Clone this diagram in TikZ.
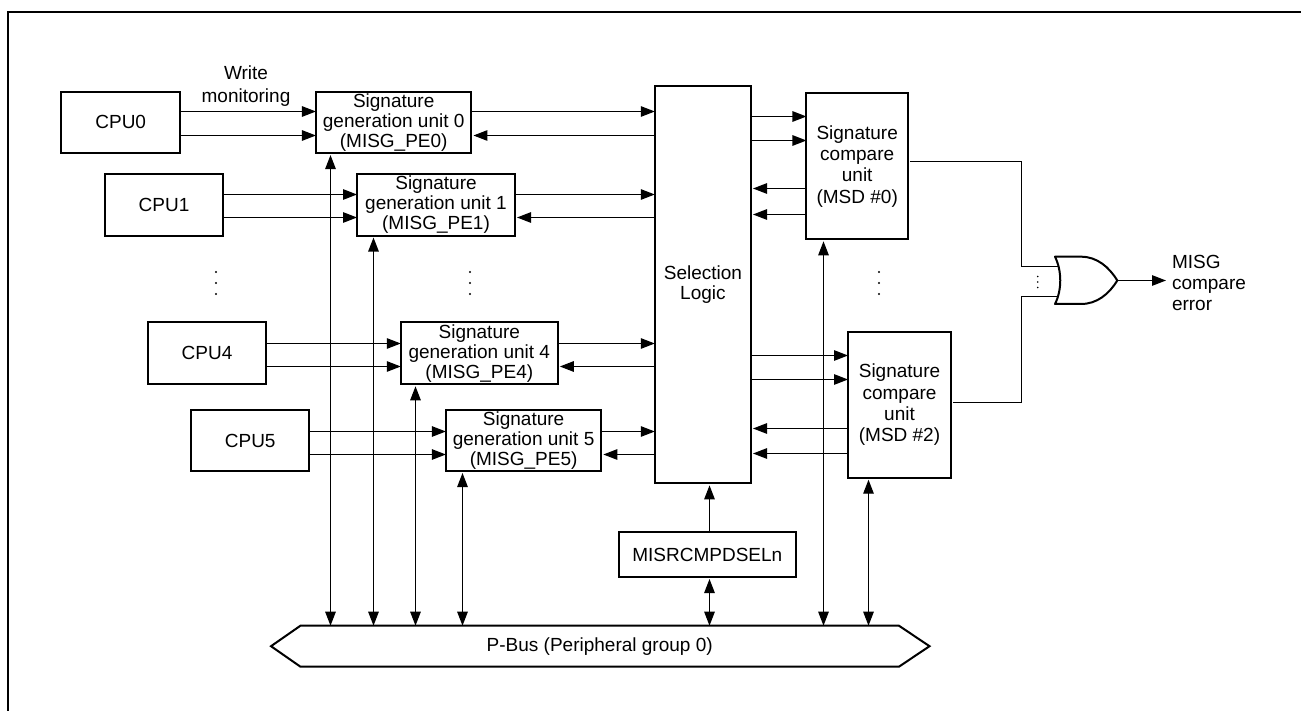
\documentclass[tikz,border=0pt]{standalone}
\usepackage{fontspec}
\setmainfont{Liberation Sans}
\usetikzlibrary{arrows.meta}
\tikzset{
  thinln/.style={line width=1.2pt,draw=black},
  boxn/.style={draw=black,line width=2pt,fill=white,inner sep=0pt,outer sep=0pt,align=center,font=\fontsize{19}{20}\selectfont},
  txt/.style={inner sep=0pt,outer sep=0pt,align=center,font=\fontsize{19}{20}\selectfont},
  arr/.style={thinln,-{Triangle[length=14pt,width=10.5pt]}},
  arrgap/.style={arr,shorten >=2pt},
  dbl/.style={thinln,{Triangle[length=14pt,width=10.5pt]}-{Triangle[length=14pt,width=10.5pt]},shorten <=2pt},
  ln/.style={thinln},
  dotm/.style={fill=black},
}
\newcommand{\hright}[3]{\draw[arr] (#1.east |- 0,#3) -- (#2.west |- 0,#3);}
\newcommand{\hleft}[3]{\draw[arrgap] (#1.west |- 0,#3) -- (#2.east |- 0,#3);}
\newcommand{\threedots}[2]{\fill[dotm] (#1,#2) circle (1.1pt) (#1,#2+11) circle (1.1pt) (#1,#2+22) circle (1.1pt);}
\begin{document}
\begin{tikzpicture}[x=1pt,y=-1pt]
\useasboundingbox (0,0) rectangle (1301,711);
\draw[line width=2pt,line cap=rect] (7.5,711) -- (7.5,12) -- (1301,12);

\node[boxn,minimum width=118.5pt,minimum height=61.5pt] (cpu0) at (120.7,122.3) {CPU0};
\node[boxn,minimum width=118pt,minimum height=61.5pt] (cpu1) at (164,204.8) {CPU1};
\node[boxn,minimum width=118pt,minimum height=62pt] (cpu4) at (207,353.3) {CPU4};
\node[boxn,minimum width=118pt,minimum height=61pt] (cpu5) at (250.2,440.5) {CPU5};

\node[boxn,minimum width=155.5pt,minimum height=61.5pt] (sg0) at (393.7,122.3) {Signature\\generation unit 0\\(MISG\_PE0)};
\node[boxn,minimum width=158pt,minimum height=61.5pt] (sg1) at (436,204.8) {Signature\\generation unit 1\\(MISG\_PE1)};
\node[boxn,minimum width=157pt,minimum height=62pt] (sg4) at (479.3,353.3) {Signature\\generation unit 4\\(MISG\_PE4)};
\node[boxn,minimum width=155.5pt,minimum height=61pt] (sg5) at (523.6,440.5) {Signature\\generation unit 5\\(MISG\_PE5)};

\node[boxn,minimum width=96.2pt,minimum height=397.3pt] (sel) at (702.9,284.7) {Selection\\Logic};
\node[boxn,minimum width=101.5pt,minimum height=146pt,font=\fontsize{19}{21.3}\selectfont] (msd0) at (857.2,166.3) {Signature\\compare\\unit\\(MSD \#0)};
\node[boxn,minimum width=103pt,minimum height=145.4pt,font=\fontsize{19}{21.3}\selectfont] (msd2) at (899.5,405) {Signature\\compare\\unit\\(MSD \#2)};
\node[boxn,minimum width=177.3pt,minimum height=45pt] (cmp) at (707.3,554.5) {MISRCMPDSELn};

\node[txt,minimum width=598.5pt,minimum height=41pt] (bus) at (599.7,646.2) {P-Bus (Peripheral group 0)};
\draw[line width=2pt,line join=miter] (bus.north west) -- (bus.north east) -- (929.5,646.2) -- (bus.south east) -- (bus.south west) -- (271,646.2) -- cycle;

\node[txt,font=\fontsize{19}{22.5}\selectfont] (wm) at (246,86) {Write\\monitoring};
\node[txt,anchor=west,align=left,font=\fontsize{19}{21.3}\selectfont] (err) at (1172,283) {MISG\\compare\\error};

% CPU -> signature generation
\hright{cpu0}{sg0}{111.5}\hright{cpu0}{sg0}{135.5}
\hright{cpu1}{sg1}{194.5}\hright{cpu1}{sg1}{217.5}
\hright{cpu4}{sg4}{343.5}\hright{cpu4}{sg4}{366.5}
\hright{cpu5}{sg5}{431.5}\hright{cpu5}{sg5}{454.5}
% signature generation <-> selection
\hright{sg0}{sel}{111.5}\hleft{sel}{sg0}{135.5}
\hright{sg1}{sel}{194.5}\hleft{sel}{sg1}{217.5}
\hright{sg4}{sel}{343.5}\hleft{sel}{sg4}{366.5}
\hright{sg5}{sel}{431.5}\hleft{sel}{sg5}{454.5}
% selection <-> compare
\hright{sel}{msd0}{116.5}\hright{sel}{msd0}{140.5}
\hleft{msd0}{sel}{188.5}\hleft{msd0}{sel}{214.5}
\hright{sel}{msd2}{355.5}\hright{sel}{msd2}{379.5}
\hleft{msd2}{sel}{428.5}\hleft{msd2}{sel}{453.5}
% bus links
\draw[dbl] (sg0.south -| 330.5,0) -- (bus.north -| 330.5,0);
\draw[dbl] (sg1.south -| 373.5,0) -- (bus.north -| 373.5,0);
\draw[dbl] (sg4.south -| 415.5,0) -- (bus.north -| 415.5,0);
\draw[dbl] (sg5.south -| 462.5,0) -- (bus.north -| 462.5,0);
\draw[dbl] (cmp.south -| 709.5,0) -- (bus.north -| 709.5,0);
\draw[dbl] (msd0.south -| 823.5,0) -- (bus.north -| 823.5,0);
\draw[dbl] (msd2.south -| 868.5,0) -- (bus.north -| 868.5,0);
\draw[arrgap] (cmp.north -| 709.5,0) -- (sel.south -| 709.5,0);

% OR gate
\coordinate (gin1) at (1058,266.5);
\coordinate (gin2) at (1058,296.5);
\coordinate (gout) at (1117.3,280.5);
\coordinate (j1) at (1021.5,266.5);
\coordinate (j2) at (1021.5,296.5);
\draw[ln] (msd0.east |- 0,161.5) ++(2,0) -- (j1 |- 0,161.5) -- (j1) -- (gin1);
\draw[ln] (msd2.east |- 0,402.5) ++(2,0) -- (j2 |- 0,402.5) -- (j2) -- (gin2);
\draw[line width=2pt,line join=round] (1055,256.7) -- (1081,256.7) .. controls (1097,256.7) and (1109,267) .. (gout) .. controls (1109,294) and (1097,304) .. (1081,304) -- (1055,304) .. controls (1062,290) and (1062,271) .. (1055,256.7) -- cycle;
\draw[arr,shorten >=6pt] (gout) -- (err.west |- gout);

% ellipsis dots
\threedots{216}{272}
\threedots{470}{272}
\threedots{879}{272}
\fill[dotm] (1037.8,276.5) circle (.9pt) (1037.8,282) circle (.9pt) (1037.8,287.5) circle (.9pt);
\end{tikzpicture}
\end{document}
